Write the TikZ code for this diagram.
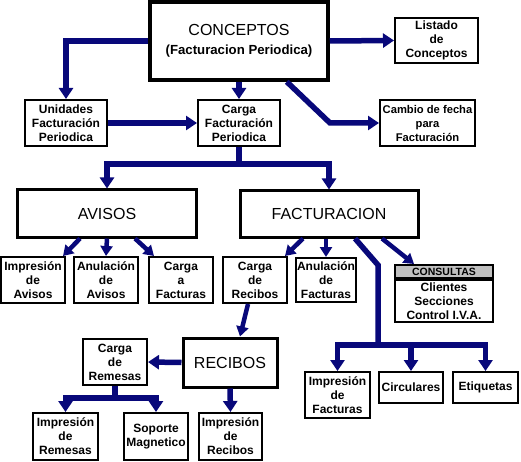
\documentclass[tikz,border=0pt]{standalone}
\usepackage{fontspec}
\setmainfont{Liberation Sans}
\usepackage{xcolor}
\usepackage{tikz}
\usetikzlibrary{arrows.meta}
\usetikzlibrary{calc}

\definecolor{azul}{RGB}{8,8,122}
\definecolor{gris}{RGB}{192,192,192}

\tikzset{
    caja/.style={draw, line width=2pt, fill=white, align=center, inner sep=1pt,
        minimum width=64pt, minimum height=46pt,
        font=\bfseries\fontsize{12}{14}\selectfont},
    cajagrande/.style={draw, line width=3.5pt, fill=white, align=center,
        font=\fontsize{16}{18}\selectfont},
    flecha/.style={draw=azul, line width=5.5pt,
        -{Triangle[width=14pt,length=11pt]}},
    flechita/.style={draw=azul, line width=4.5pt,
        -{Triangle[width=12pt,length=10pt]}},
}

\begin{document}
\begin{tikzpicture}[x=1pt, y=-1pt]
    \useasboundingbox (0,0) rectangle (521,462);

    \node[cajagrande, minimum width=178, minimum height=78] (conc) at (239,41)
        {CONCEPTOS\\[1pt]{\bfseries\fontsize{13.2}{15}\selectfont (Facturacion Periodica)}};
    \node[caja, minimum width=83, minimum height=45] (listado) at (436.5,40.5) {Listado\\de\\Conceptos};
    \node[caja, minimum width=95, inner sep=0pt, font=\bfseries\fontsize{11.2}{14}\selectfont] (cambio)
        at (427.5,123) {Cambio de fecha\\para\\Facturación};
    \node[caja, minimum width=82] (unidades) at (66,123) {Unidades\\Facturación\\Periodica};
    \node[caja, minimum width=82] (cargafp) at (239,123) {Carga\\Facturación\\Periodica};

    \node[cajagrande, line width=3pt, minimum width=179, minimum height=47] (avisos) at (107,213.5) {AVISOS};
    \node[cajagrande, line width=3pt, minimum width=178, minimum height=46] (factur) at (329,214) {FACTURACION};

    \node[caja] (impav) at (33,280) {Impresión\\de\\Avisos};
    \node[caja] (anulav) at (106,280) {Anulación\\de\\Avisos};
    \node[caja] (cargaf) at (181,280) {Carga\\a\\Facturas};
    \node[caja] (cargarec) at (255,280) {Carga\\de\\Recibos};
    \node[caja, minimum width=58, minimum height=44] (anulfac) at (326,280) {Anulación\\de\\Facturas};
    \node[caja, fill=gris, minimum width=98, minimum height=13,
        font=\bfseries\fontsize{10.5}{11}\selectfont] (consultas) at (444,271.5) {CONSULTAS};
    \node[caja, minimum width=98, minimum height=42, anchor=north] (consultasbody)
        at (consultas.south) {Clientes\\Secciones\\Control I.V.A.};

    \node[caja, minimum width=65] (impfac) at (337.5,395) {Impresión\\de\\Facturas};
    \node[caja, minimum height=31] (circ) at (411,387.5) {Circulares};
    \node[caja, minimum width=65, minimum height=31] (etiq) at (485.5,387.5) {Etiquetas};

    \node[cajagrande, line width=3pt, minimum width=94, minimum height=49] (recibos) at (230,362.5) {RECIBOS};
    \node[caja] (cargarem) at (115,362) {Carga\\de\\Remesas};
    \node[caja, minimum width=65, minimum height=47] (impremesas) at (65.5,436.5) {Impresión\\de\\Remesas};
    \node[caja, minimum height=47] (soporte) at (156,436.5) {Soporte\\Magnetico};
    \node[caja, minimum width=63, minimum height=47] (imprec) at (230.5,436.5) {Impresión\\de\\Recibos};

    \draw[flecha] (conc.west) -| (unidades.north);
    \draw[flecha] (conc.south) -- (cargafp.north);
    \draw[flecha] (conc.east) -- (listado.west);
    \coordinate (codo) at (330,123);
    \draw[flecha] ([xshift=-43pt]conc.south east) -- (codo) -- (cambio.west);
    \draw[flecha] (unidades.east) -- (cargafp.west);
    \draw[flecha] (cargafp.south) -- ++(0,17) -| (avisos.north);
    \draw[flecha] (cargafp.south) -- ++(0,17) -| (factur.north);

    \draw[flechita] ([xshift=-27pt]avisos.south) -- ([xshift=-3pt]impav.north east);
    \draw[flechita] (avisos.south) -- (anulav.north);
    \draw[flechita] ([xshift=28pt]avisos.south) -- ([xshift=6pt]cargaf.north west);

    \draw[flechita] ([xshift=-26pt]factur.south) -- ([xshift=-3pt]cargarec.north east);
    \draw[flechita] (factur.south -| anulfac.north) -- (anulfac.north);
    \draw[flechita] ([xshift=53pt]factur.south) -- ([xshift=20pt]consultas.north west);
    \coordinate (bajada) at (378,345);
    \draw[flecha, -] ([xshift=26pt]factur.south) -- (378,265) -- (bajada);
    \draw[flecha] (bajada) -| (impfac.north);
    \draw[flecha] (bajada) -| (circ.north);
    \draw[flecha] (bajada) -| (etiq.north);

    \draw[flechita] ([xshift=-7pt]cargarec.south) -- ([xshift=10pt]recibos.north);
    \draw[flecha] (recibos.west) -- (cargarem.east);
    \draw[flecha] (recibos.south) -- (imprec.north);
    \draw[flecha] (cargarem.south) -- ++(0,12) -| (impremesas.north);
    \draw[flecha] (cargarem.south) -- ++(0,12) -| (soporte.north);
\end{tikzpicture}
\end{document}
